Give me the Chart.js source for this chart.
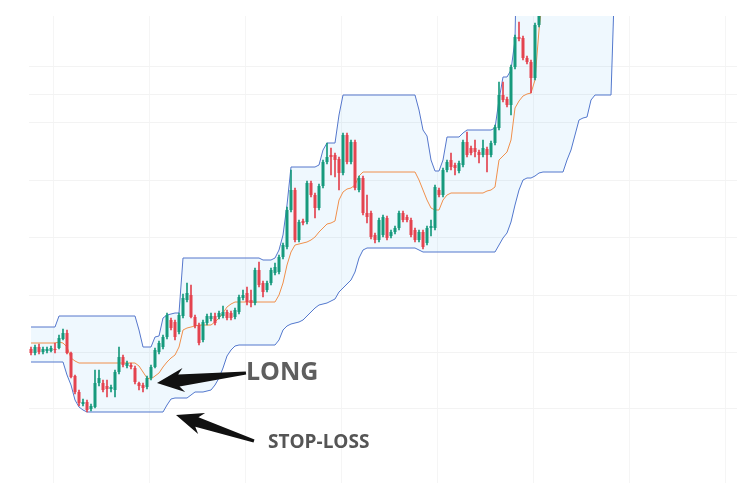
<!DOCTYPE html>
<html>
<head>
<meta charset="utf-8">
<script src="https://cdn.jsdelivr.net/npm/chart.js@4.4.1/dist/chart.umd.min.js"></script>
<style>
  html, body { margin: 0; padding: 0; background: #fff; }
</style>
</head>
<body>
<canvas id="chart" width="737" height="483"></canvas>
<script>
// candles (price units), one entry per bar
const open = [
  151,147,153,148,149,149,151,152,161,167,
  147,124,108,96,98,91,93,117,117,114,
  111,110,128,143,134,135,132,117,115,113,
  122,133,148,153,163,180,178,168,184,200,
  205,183,175,160,177,181,184,183,184,188,
  187,183,188,202,207,200,197,230,217,210,
  217,227,228,243,253,290,310,260,279,278,
  317,305,292,314,338,345,345,341,327,365,
  338,358,310,322,287,287,265,260,265,282,
  264,268,272,287,283,280,270,260,268,257,
  272,272,310,305,330,340,335,329,335,358,
  352,352,348,345,351,345,357,372,405,401,
  395,433,463,462,442,438,422,475
];
const high = [
  153,155,156,153,153,154,157,165,171,170,
  148,125,110,101,100,96,130,130,120,120,
  115,130,153,145,139,137,134,118,117,124,
  135,152,159,165,187,182,180,187,206,217,
  215,185,177,180,186,187,187,189,194,190,
  189,192,205,210,213,210,232,238,219,219,
  232,237,245,257,293,330,312,280,281,319,
  319,307,316,340,357,352,347,343,367,367,
  360,360,324,324,305,289,267,282,285,284,
  270,274,289,289,285,282,272,270,270,274,
  280,315,312,332,340,347,337,339,360,368,
  354,360,350,360,353,359,375,418,418,403,
  435,465,478,464,444,440,477,495
];
const low = [
  145,145,146,146,147,148,147,151,160,146,
  122,106,94,94,88,89,92,114,108,103,
  108,103,126,133,132,131,116,110,108,111,
  120,132,146,151,161,170,160,166,182,198,
  182,172,155,158,175,179,175,181,182,180,
  180,181,186,200,195,193,195,213,203,208,
  215,225,226,241,251,288,258,258,275,276,
  303,282,290,312,336,325,323,310,325,336,
  336,310,308,285,277,261,257,258,263,260,
  262,266,270,278,278,263,258,258,251,255,
  264,270,303,303,328,330,325,327,333,343,
  345,343,337,343,328,343,355,370,398,393,
  385,431,459,440,436,407,420,473
];
const close = [
  147,153,148,151,151,152,150,162,167,147,
  123,108,97,98,90,94,117,122,110,111,
  113,128,143,135,137,133,118,114,112,122,
  133,150,157,163,185,172,163,185,202,207,
  183,174,157,178,184,184,177,187,188,182,
  182,190,203,205,198,197,230,215,208,217,
  230,233,243,255,290,310,260,278,277,317,
  305,292,314,338,343,343,340,327,365,338,
  358,312,322,287,283,263,260,280,283,262,
  268,272,287,280,280,265,260,268,253,272,
  274,313,305,330,338,333,332,337,358,345,
  347,348,345,352,345,357,373,405,400,395,
  433,463,461,442,438,422,475,490
];

// channel (upper / basis / lower)
const upper = [
  173,173,173,173,173,173,173,184,184,184,
  184,184,184,184,184,184,184,184,184,184,
  184,184,184,184,184,184,184,170,153,153,
  153,163,164,182,185,186,187,187,242,242,
  242,242,242,242,242,242,242,242,242,242,
  242,242,242,242,242,242,242,242,240,240,
  240,242,250,265,295,333,333,333,333,333,
  333,333,335,350,357,357,357,385,405,405,
  405,405,405,405,405,405,405,405,405,405,
  405,405,405,405,405,405,405,390,370,364,
  340,329,329,340,363,363,363,363,367,370,
  370,370,370,370,370,370,372,400,423,423,
  430,460,680,680,680,680,680,680,680,680,
  680,680,680,680,680,680,680,680,680,680,
  680,680,680,680,680,680,680
];
const basis = [
  157,157,157,157,157,157,157,158,157,153,
  142,139,137,137,137,137,137,137,137,137,
  137,137,137,137,137,137,137,134,128,122,
  121,124,127,133,138,142,145,153,170,172,
  173,174,175,175,175,175,178,182,187,193,
  196,198,198,198,198,198,198,198,198,198,
  198,198,205,217,235,248,255,256,257,258,
  260,263,268,272,276,277,279,300,308,311,
  312,315,324,328,328,328,328,328,328,328,
  328,328,328,328,328,328,328,320,310,300,
  292,290,290,300,305,307,307,307,307,307,
  307,307,307,307,309,310,313,340,344,348,
  360,392,399,404,406,407,420,470,505,505,
  505,505,505,505,505,505,505,505,505,505,
  505,505,505,505,505,505,505
];
const lower = [
  138,138,138,138,138,138,138,138,138,125,
  115,100,93,90,88,88,88,88,88,88,
  88,88,88,88,88,88,88,88,88,88,
  88,88,88,88,95,101,102,102,102,102,
  105,108,108,108,109,110,115,122,132,144,
  150,154,155,155,155,155,155,155,155,155,
  155,155,160,170,174,176,177,178,180,184,
  188,192,195,196,197,199,201,208,212,216,
  220,228,242,250,252,252,252,252,252,252,
  252,252,252,252,252,252,252,250,248,248,
  248,248,248,248,248,248,248,248,248,248,
  248,248,248,248,248,248,248,255,262,267,
  278,295,310,320,322,322,324,327,328,328,
  328,328,328,328,340,350,365,380,382,383,
  400,405,405,405,405,405,530
];

const slots = 177;            // bar slots across the axis (right margin included)
const gridPrices = [92, 148, 205, 263, 320, 377, 405, 434];

// notes drawn on top: [bar index, price]
const longArrow = { tail: [53.75, 127], tip: [31.5, 117] };
const stopArrow = { tail: [55.75, 59], tip: [36.25, 85] };
const notes = [
  { text: 'LONG', at: [53.75, 120], size: 25, color: '#5e5e5e' },
  { text: 'STOP-LOSS', at: [59.25, 52], size: 19, color: '#555555' }
];

const GREEN = '#169a7d';
const RED = '#e4434f';
const labels = Array.from({ length: slots }, (_, i) => i);
const rising = open.map((o, i) => close[i] >= o);
const candleColors = rising.map(r => (r ? GREEN : RED));

function drawArrow(ctx, b, t, headLen, headW, neckW, tailW) {
  const dx = t[0] - b[0], dy = t[1] - b[1];
  const len = Math.hypot(dx, dy);
  const ux = dx / len, uy = dy / len, nx = -uy, ny = ux;
  const hx = t[0] - ux * headLen, hy = t[1] - uy * headLen;
  const back = 5;
  ctx.beginPath();
  ctx.moveTo(b[0] + nx * tailW, b[1] + ny * tailW);
  ctx.lineTo(hx + nx * neckW, hy + ny * neckW);
  ctx.lineTo(hx - ux * back + nx * headW, hy - uy * back + ny * headW);
  ctx.lineTo(t[0], t[1]);
  ctx.lineTo(hx - ux * back - nx * headW, hy - uy * back - ny * headW);
  ctx.lineTo(hx - nx * neckW, hy - ny * neckW);
  ctx.lineTo(b[0] - nx * tailW, b[1] - ny * tailW);
  ctx.closePath();
  ctx.fill();
}

const notesPlugin = {
  id: 'notes',
  afterDatasetsDraw(chart) {
    const { ctx, scales: { x, y } } = chart;
    const px = p => [x.getPixelForValue(p[0]), y.getPixelForValue(p[1])];
    ctx.save();
    ctx.fillStyle = '#111';
    drawArrow(ctx, px(longArrow.tail), px(longArrow.tip), 22, 12, 6, 1.5);
    drawArrow(ctx, px(stopArrow.tail), px(stopArrow.tip), 22, 11, 5, 1.5);
    ctx.textBaseline = 'alphabetic';
    ctx.textAlign = 'left';
    notes.forEach(n => {
      const [tx, ty] = px(n.at);
      ctx.font = `bold ${n.size}px "Open Sans", "DejaVu Sans", sans-serif`;
      ctx.fillStyle = n.color;
      ctx.fillText(n.text, tx, ty);
    });
    ctx.restore();
  }
};

new Chart(document.getElementById('chart'), {
  type: 'bar',
  data: {
    labels: labels,
    datasets: [
      {
        type: 'bar',
        data: open.map((o, i) => [o, close[i]]),
        backgroundColor: candleColors,
        barPercentage: 0.75,
        categoryPercentage: 1,
        grouped: false,
        minBarLength: 1,
        order: 0
      },
      {
        type: 'bar',
        data: low.map((l, i) => [l, high[i]]),
        backgroundColor: candleColors,
        barThickness: 1,
        grouped: false,
        order: 1
      },
      {
        type: 'line',
        data: basis,
        borderColor: '#f0904c',
        borderWidth: 1,
        pointRadius: 0,
        fill: false,
        order: 2
      },
      {
        type: 'line',
        data: upper,
        borderColor: '#5577cc',
        borderWidth: 1,
        pointRadius: 0,
        fill: '+1',
        backgroundColor: 'rgba(33, 150, 243, 0.07)',
        order: 3
      },
      {
        type: 'line',
        data: lower,
        borderColor: '#5577cc',
        borderWidth: 1,
        pointRadius: 0,
        fill: false,
        order: 3
      }
    ]
  },
  options: {
    responsive: false,
    animation: false,
    devicePixelRatio: 1,
    layout: { padding: { left: 29, top: 16, right: 0, bottom: 0 } },
    plugins: { legend: { display: false }, tooltip: { enabled: false } },
    scales: {
      x: {
        offset: true,
        ticks: { display: false, autoSkip: false },
        grid: {
          offset: true,
          drawTicks: false,
          color: ctx => (ctx.index % 24 === 6 ? '#f5f5f5' : 'rgba(0,0,0,0)')
        },
        border: { display: false },
        afterFit: s => { s.height = 0; }
      },
      y: {
        min: 17,
        max: 484,
        afterBuildTicks: s => { s.ticks = gridPrices.map(v => ({ value: v })); },
        ticks: { display: false },
        grid: { color: '#f3f3f3', drawTicks: false },
        border: { display: false },
        afterFit: s => { s.width = 0; }
      }
    }
  },
  plugins: [notesPlugin]
});
</script>
</body>
</html>
